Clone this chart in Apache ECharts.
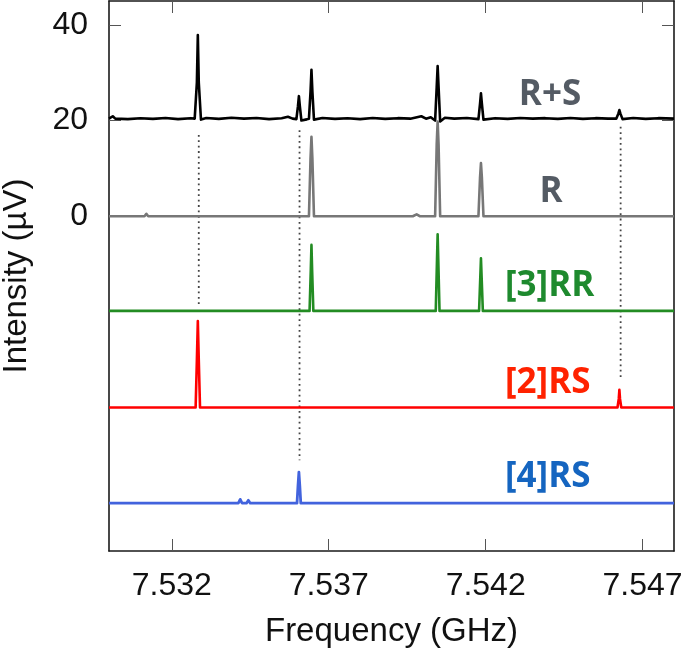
<!DOCTYPE html>
<html>
<head>
<meta charset="utf-8">
<script src="https://cdn.jsdelivr.net/npm/echarts@6/dist/echarts.min.js"></script>
<style>
html,body{margin:0;padding:0;background:#fff;}
#chart{width:685px;height:656px;}
</style>
</head>
<body>
<div id="chart"></div>
<script>
// ---- data ----
const xTicks = [7.532, 7.537, 7.542, 7.547];
const yTicks = [0, 20, 40];
const traceNames = ['R+S', 'R', '[3]RR', '[2]RS', '[4]RS'];

const rsFreq = [7.53000,7.53012,7.53020,7.53060,7.53100,7.53140,7.53180,7.53220,7.53260,7.53273,7.53280,7.53283,7.53286,7.53293,7.53310,7.53350,7.53390,7.53430,7.53470,7.53510,7.53550,7.53570,7.53585,7.53597,7.53602,7.53605,7.53608,7.53613,7.53630,7.53637,7.53642,7.53645,7.53648,7.53653,7.53680,7.53720,7.53760,7.53800,7.53840,7.53880,7.53920,7.53960,7.53995,7.54010,7.54025,7.54039,7.54044,7.54047,7.54050,7.54055,7.54070,7.54100,7.54140,7.54177,7.54182,7.54185,7.54188,7.54193,7.54230,7.54270,7.54310,7.54350,7.54390,7.54430,7.54470,7.54510,7.54550,7.54590,7.54616,7.54623,7.54626,7.54629,7.54636,7.54670,7.54710,7.54750,7.54800];
const rsVal  = [20.4,20.9,20.4,20.3,20.5,20.35,20.55,20.3,20.5,20.4,28.0,37.9,28.0,20.2,20.55,20.35,20.6,20.4,20.55,20.3,20.5,20.8,20.4,20.3,23.0,25.1,23.0,20.0,20.25,20.4,26.0,30.6,26.0,20.2,20.55,20.35,20.5,20.3,20.55,20.35,20.5,20.4,20.9,20.4,20.7,20.0,27.0,31.4,27.0,19.8,20.6,20.4,20.55,20.3,23.5,25.7,23.5,20.2,20.5,20.35,20.55,20.4,20.5,20.35,20.55,20.35,20.5,20.4,20.4,21.5,22.2,21.5,20.3,20.55,20.35,20.5,20.4];

const rFreq = [7.53000,7.53113,7.53119,7.53125,7.53637,7.53642,7.53645,7.53648,7.53653,7.53968,7.53980,7.53990,7.54039,7.54044,7.54047,7.54050,7.54055,7.54177,7.54182,7.54185,7.54188,7.54193,7.54568,7.54574,7.54580,7.54800];
const rVal  = [0,0,0.5,0,0,12,16.6,12,0,0,0.4,0,0,15,19.8,15,0,0,8,11.1,8,0,0,0.3,0,0];

const rrFreq = [7.53000,7.53639,7.53643,7.53645,7.53647,7.53651,7.54041,7.54045,7.54047,7.54049,7.54053,7.54179,7.54183,7.54185,7.54187,7.54191,7.54800];
const rrVal  = [-19.8,-19.8,-11,-6.0,-11,-19.8,-19.8,-9,-3.8,-9,-19.8,-19.8,-12.5,-8.8,-12.5,-19.8,-19.8];

const rs2Freq = [7.53000,7.53140,7.53146,7.53152,7.53276,7.53280,7.53283,7.53286,7.53290,7.54620,7.54624,7.54626,7.54628,7.54632,7.54800];
const rs2Val  = [-40,-40,-39.6,-40,-40,-30,-21.9,-30,-40,-40,-38.2,-36.3,-38.2,-40,-40];

const rs4Freq = [7.53000,7.53412,7.53418,7.53424,7.53438,7.53444,7.53450,7.53599,7.53602,7.53605,7.53608,7.53611,7.54800];
const rs4Val  = [-60,-60,-59.2,-60,-60,-59.4,-60,-60,-56.5,-53.5,-56.5,-60,-60];

const guideFreq   = [7.53286, 7.53607, 7.54630];
const guideTop    = [17.0, 18.0, 18.7];
const guideBottom = [-19.0, -51.0, -34.0];

// ---- build ----
const zip = (f, v) => f.map((x, i) => [x, v[i]]);
const traces = [
  {name: traceNames[0], data: zip(rsFreq, rsVal),   color: '#000000', width: 2.6},
  {name: traceNames[1], data: zip(rFreq, rVal),     color: '#777777', width: 2.6},
  {name: traceNames[2], data: zip(rrFreq, rrVal),   color: '#238c23', width: 2.6},
  {name: traceNames[3], data: zip(rs2Freq, rs2Val), color: '#ff0000', width: 2.6},
  {name: traceNames[4], data: zip(rs4Freq, rs4Val), color: '#4263dd', width: 2.8}
];

const series = [];
guideFreq.forEach((f, i) => {
  series.push({
    type: 'line', silent: true, showSymbol: false, animation: false, z: 1,
    data: [[f, guideTop[i]], [f, guideBottom[i]]],
    lineStyle: {color: '#444', width: 1.8, type: [1.8, 3.6]}
  });
});
traces.forEach(t => {
  series.push({
    name: t.name, type: 'line', showSymbol: false, animation: false, z: 3,
    data: t.data, lineStyle: {color: t.color, width: t.width, join: 'round'}
  });
});

const FONT = '"Liberation Sans", Arial, Helvetica, sans-serif';
const LFONT = '"Open Sans", "Noto Sans", sans-serif';
const xBase = {
  type: 'value', min: 7.530, max: 7.548,
  axisLine: {show: true, onZero: false, lineStyle: {color: '#1a1a1a', width: 1.6}},
  splitLine: {show: false}
};
const yBase = {
  type: 'value', min: -70, max: 45,
  axisLine: {show: true, onZero: false, lineStyle: {color: '#1a1a1a', width: 1.6}},
  splitLine: {show: false}
};

const labelStyle = (text, x, y, color, align) => ({
  type: 'text', x: x, y: y, silent: true,
  style: {text: text, fill: color, font: 'bold 35px ' + LFONT, textAlign: align, textVerticalAlign: 'middle'}
});

const option = {
  backgroundColor: '#ffffff',
  animation: false,
  grid: {left: 109, right: 11, top: 1, bottom: 105, containLabel: false, outerBoundsMode: 'none'},
  xAxis: [
    Object.assign({}, xBase, {
      position: 'bottom',
      name: 'Frequency (GHz)', nameLocation: 'middle', nameGap: 64,
      nameTextStyle: {fontFamily: FONT, fontSize: 33, color: '#111'},
      axisTick: {show: true, inside: true, length: 12, customValues: xTicks, lineStyle: {color: '#555', width: 1}},
      axisLabel: {show: true, customValues: xTicks, margin: 19, fontFamily: FONT, fontSize: 32, color: '#111',
        formatter: v => Number(v).toFixed(3)}
    }),
    Object.assign({}, xBase, {
      position: 'top',
      axisTick: {show: true, inside: true, length: 12, customValues: xTicks, lineStyle: {color: '#555', width: 1}},
      axisLabel: {show: false}
    })
  ],
  yAxis: [
    Object.assign({}, yBase, {
      position: 'left',
      name: 'Intensity (\u00b5V)', nameLocation: 'middle', nameGap: 76, nameRotate: 90,
      nameTextStyle: {fontFamily: FONT, fontSize: 33, color: '#111'},
      axisTick: {show: true, inside: true, length: 12, customValues: yTicks, lineStyle: {color: '#555', width: 1}},
      axisLabel: {show: true, customValues: yTicks, margin: 21, fontFamily: FONT, fontSize: 32, color: '#111'}
    }),
    Object.assign({}, yBase, {
      position: 'right',
      axisTick: {show: true, inside: true, length: 12, customValues: yTicks, lineStyle: {color: '#555', width: 1}},
      axisLabel: {show: false}
    })
  ],
  series: series,
  graphic: [
    labelStyle(traceNames[0], 550, 95, '#545b64', 'center'),
    labelStyle(traceNames[1], 551, 192, '#545b64', 'center'),
    labelStyle(traceNames[2], 505, 286, '#1e8a2e', 'left'),
    labelStyle(traceNames[3], 505, 383, '#ff2200', 'left'),
    labelStyle(traceNames[4], 505, 477, '#1565c0', 'left')
  ]
};

const chart = echarts.init(document.getElementById('chart'), null, {renderer: 'canvas'});
chart.setOption(option);
</script>
</body>
</html>
